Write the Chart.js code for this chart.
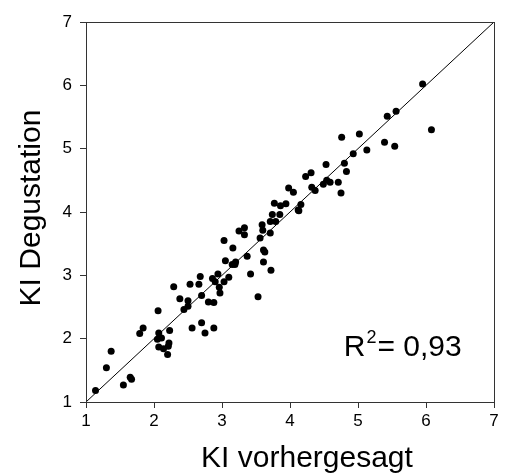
<!DOCTYPE html>
<html>
<head>
<meta charset="utf-8">
<script src="https://cdn.jsdelivr.net/npm/chart.js@4/dist/chart.umd.min.js"></script>
<style>
html,body{margin:0;padding:0;background:#fff;}
#wrap{width:508px;height:475px;position:relative;}
</style>
</head>
<body>
<div id="wrap"><canvas id="c" width="508" height="475"></canvas></div>
<script>
// Data
const kiVorhergesagt = [1.14,1.30,1.37,1.55,1.65,1.67,1.79,1.84,2.06,2.07,2.05,2.11,2.07,2.14,2.20,2.21,2.22,2.23,2.29,2.38,2.44,2.50,2.50,2.53,2.56,2.66,2.68,2.70,2.70,2.75,2.80,2.86,2.88,2.88,2.90,2.94,2.96,2.97,3.03,3.10,3.03,3.05,3.16,3.15,3.20,3.19,3.25,3.33,3.33,3.37,3.42,3.53,3.56,3.59,3.60,3.61,3.63,3.61,3.71,3.71,3.72,3.74,3.77,3.79,3.85,3.86,3.94,3.98,4.05,4.12,4.13,4.16,4.23,4.31,4.32,4.37,4.49,4.53,4.54,4.59,4.71,4.75,4.76,4.80,4.83,4.93,5.02,5.13,5.39,5.43,5.54,5.56,5.95,6.08];
const kiDegustation = [1.18,1.54,1.80,1.27,1.39,1.36,2.08,2.17,2.44,2.09,1.99,2.01,1.87,1.84,1.75,1.88,1.93,2.13,2.82,2.63,2.46,2.60,2.51,2.86,2.17,2.86,2.98,2.68,2.25,2.09,2.58,2.95,2.57,2.17,2.90,3.02,2.81,2.72,2.90,2.97,3.55,3.23,3.43,3.17,3.21,3.17,3.70,3.75,3.64,3.30,3.02,2.66,3.59,3.80,3.71,3.40,3.37,3.21,3.67,3.85,3.08,3.96,4.14,3.85,3.96,4.10,4.13,4.38,4.31,4.03,4.02,4.12,4.56,4.62,4.39,4.34,4.44,4.75,4.50,4.47,4.47,4.30,5.18,4.77,4.64,4.92,5.23,4.98,5.10,5.51,5.04,5.59,6.02,5.30];
const identityLine = [1, 7];
const axisTicks = [1, 2, 3, 4, 5, 6, 7];
const xTitle = 'KI vorhergesagt';
const yTitle = 'KI Degustation';
const r2Label = ['R', '2', '= 0,93'];

const points = kiVorhergesagt.map((x, i) => ({x: x, y: kiDegustation[i]}));
const linePts = identityLine.map(v => ({x: v, y: v}));

const FONT = "'Liberation Sans', Arial, Helvetica, sans-serif";

const decor = {
  id: 'decor',
  afterDraw(chart) {
    const ctx = chart.ctx;
    const a = chart.chartArea;
    const xs = chart.scales.x, ys = chart.scales.y;
    ctx.save();
    // frame
    ctx.strokeStyle = '#333';
    ctx.lineWidth = 1;
    ctx.strokeRect(Math.round(a.left) + 0.5, Math.round(a.top) + 0.5,
                   Math.round(a.right - a.left), Math.round(a.bottom - a.top));
    // axis titles
    ctx.fillStyle = '#000';
    ctx.font = '30px ' + FONT;
    ctx.textAlign = 'center';
    ctx.textBaseline = 'alphabetic';
    ctx.fillText(xTitle, 307, 467);
    ctx.save();
    ctx.translate(40, 208);
    ctx.rotate(-Math.PI / 2);
    ctx.fillText(yTitle, 0, 0);
    ctx.restore();
    // R² annotation
    let px = xs.getPixelForValue(4.79);
    const py = ys.getPixelForValue(1.73);
    ctx.textAlign = 'left';
    ctx.font = '30px ' + FONT;
    ctx.fillText(r2Label[0], px, py);
    px += ctx.measureText(r2Label[0]).width + 1;
    ctx.font = '18px ' + FONT;
    ctx.fillText(r2Label[1], px, py - 13);
    px += ctx.measureText(r2Label[1]).width + 1;
    ctx.font = '30px ' + FONT;
    ctx.fillText(r2Label[2], px, py);
    ctx.restore();
  }
};

new Chart(document.getElementById('c'), {
  type: 'scatter',
  data: {
    datasets: [
      {
        type: 'line',
        data: linePts,
        borderColor: '#000',
        borderWidth: 1,
        pointRadius: 0,
        fill: false
      },
      {
        data: points,
        backgroundColor: '#000',
        borderWidth: 0,
        pointRadius: 3.5,
        pointHoverRadius: 3.5
      }
    ]
  },
  options: {
    responsive: false,
    animation: false,
    events: [],
    layout: {padding: {left: 0, top: 22, right: 14, bottom: 0}},
    plugins: {legend: {display: false}, tooltip: {enabled: false}},
    scales: {
      x: {
        type: 'linear',
        min: 1, max: 7,
        afterBuildTicks(s) { s.ticks = axisTicks.map(v => ({value: v})); },
        afterFit(s) { s.height = 73; },
        grid: {drawOnChartArea: false, drawTicks: true, tickLength: 6, color: '#333'},
        border: {display: false},
        ticks: {color: '#000', font: {family: FONT, size: 17}, padding: 3, maxRotation: 0}
      },
      y: {
        type: 'linear',
        min: 1, max: 7,
        afterBuildTicks(s) { s.ticks = axisTicks.map(v => ({value: v})); },
        afterFit(s) { s.width = 86; },
        grid: {drawOnChartArea: false, drawTicks: true, tickLength: 6, color: '#333'},
        border: {display: false},
        ticks: {color: '#000', font: {family: FONT, size: 17}, padding: 8}
      }
    }
  },
  plugins: [decor]
});
</script>
</body>
</html>
